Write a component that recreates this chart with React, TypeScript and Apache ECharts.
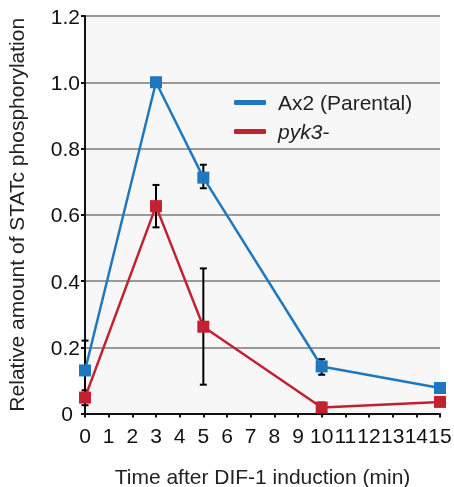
import React, { useEffect, useRef } from "react";
import * as echarts from "echarts";

const times = [0, 3, 5, 10, 15];
const ax2Values = [0.13, 1.0, 0.712, 0.142, 0.077];
const pyk3Values = [0.048, 0.626, 0.262, 0.018, 0.035];
// error bars: [time, low, high]
const ax2Errors = [
  [0, 0.04, 0.22],
  [5, 0.68, 0.751],
  [10, 0.117, 0.164],
];
const pyk3Errors = [
  [0, 0.025, 0.07],
  [3, 0.562, 0.69],
  [5, 0.087, 0.438],
  [10, 0.003, 0.033],
];
const xTicks = [0, 15, 1];
const yTicks = [0, 1.2, 0.2];

const BLUE = "#1f77bf";
const RED = "#c2212f";
const FONT = "Liberation Sans";

function errorSeries(name: string, data: number[][]) {
  return {
    type: "custom",
    name: name + "_err",
    z: 1,
    silent: true,
    data,
    renderItem: (params: any, api: any) => {
      const x = api.value(0);
      const lo = api.coord([x, api.value(1)]);
      const hi = api.coord([x, api.value(2)]);
      const w = 3.5;
      const style = { stroke: "#000", lineWidth: 2 };
      return {
        type: "group",
        children: [
          { type: "line", shape: { x1: lo[0], y1: lo[1], x2: hi[0], y2: hi[1] }, style },
          { type: "line", shape: { x1: lo[0] - w, y1: lo[1], x2: lo[0] + w, y2: lo[1] }, style },
          { type: "line", shape: { x1: hi[0] - w, y1: hi[1], x2: hi[0] + w, y2: hi[1] }, style },
        ],
      };
    },
  };
}

export default function App() {
  const ref = useRef<HTMLDivElement>(null);
  useEffect(() => {
    const chart = echarts.init(ref.current!, null, { renderer: "svg" });
    chart.setOption({
      animation: false,
      textStyle: { fontFamily: FONT },
      grid: {
        left: 85,
        right: 14,
        top: 16,
        bottom: 73.5,
        containLabel: false,
        outerBoundsMode: "none",
        show: true,
        backgroundColor: "#f7f7f7",
        borderWidth: 0,
      },
      legend: {
        orient: "vertical",
        left: 234,
        top: 92,
        padding: 0,
        itemWidth: 32,
        itemHeight: 5,
        itemGap: 8,
        icon: "roundRect",
        textStyle: { fontFamily: FONT, fontSize: 21, color: "#222", padding: [0, 0, 0, 7] },
        data: [
          { name: "Ax2 (Parental)" },
          { name: "pyk3-", textStyle: { fontStyle: "italic" } },
        ],
      },
      xAxis: {
        type: "value",
        min: xTicks[0],
        max: xTicks[1],
        interval: xTicks[2],
        name: "Time after DIF-1 induction (min)",
        nameLocation: "middle",
        nameGap: 52,
        nameTextStyle: { fontFamily: FONT, fontSize: 21, color: "#222" },
        axisLine: { lineStyle: { color: "#111", width: 2 } },
        axisTick: { length: 4, lineStyle: { color: "#111", width: 2 } },
        axisLabel: { fontFamily: FONT, fontSize: 21, color: "#111", margin: 11 },
        splitLine: { show: false },
      },
      yAxis: {
        type: "value",
        min: yTicks[0],
        max: yTicks[1],
        interval: yTicks[2],
        name: "Relative amount of STATc phosphorylation",
        nameLocation: "middle",
        nameGap: 58,
        nameTextStyle: { fontFamily: FONT, fontSize: 21, color: "#222" },
        axisLine: { show: true, lineStyle: { color: "#111", width: 2 } },
        axisTick: { show: true, length: 4, lineStyle: { color: "#111", width: 2 } },
        axisLabel: {
          fontFamily: FONT,
          fontSize: 21,
          color: "#111",
          margin: 5,
          formatter: (v: number) => (v === 0 ? "{z|0}" : v.toFixed(1)),
          rich: { z: { fontFamily: FONT, fontSize: 21, color: "#111", padding: [0, 7, 0, 0] } },
        },
        splitLine: { show: true, lineStyle: { color: "#9a9a9a", width: 2 } },
      },
      series: [
        errorSeries("Ax2 (Parental)", ax2Errors),
        errorSeries("pyk3-", pyk3Errors),
        {
          name: "Ax2 (Parental)",
          type: "line",
          z: 3,
          data: times.map((t, i) => [t, ax2Values[i]]),
          symbol: "rect",
          symbolSize: 12,
          itemStyle: { color: BLUE },
          lineStyle: { color: BLUE, width: 2.5 },
        },
        {
          name: "pyk3-",
          type: "line",
          z: 4,
          data: times.map((t, i) => [t, pyk3Values[i]]),
          symbol: "rect",
          symbolSize: 12,
          itemStyle: { color: RED },
          lineStyle: { color: RED, width: 2.5 },
        },
      ],
    });
    return () => chart.dispose();
  }, []);
  return (
    <div
      ref={ref}
      style={{ position: "fixed", left: 0, top: 0, width: 454, height: 487 }}
    />
  );
}
